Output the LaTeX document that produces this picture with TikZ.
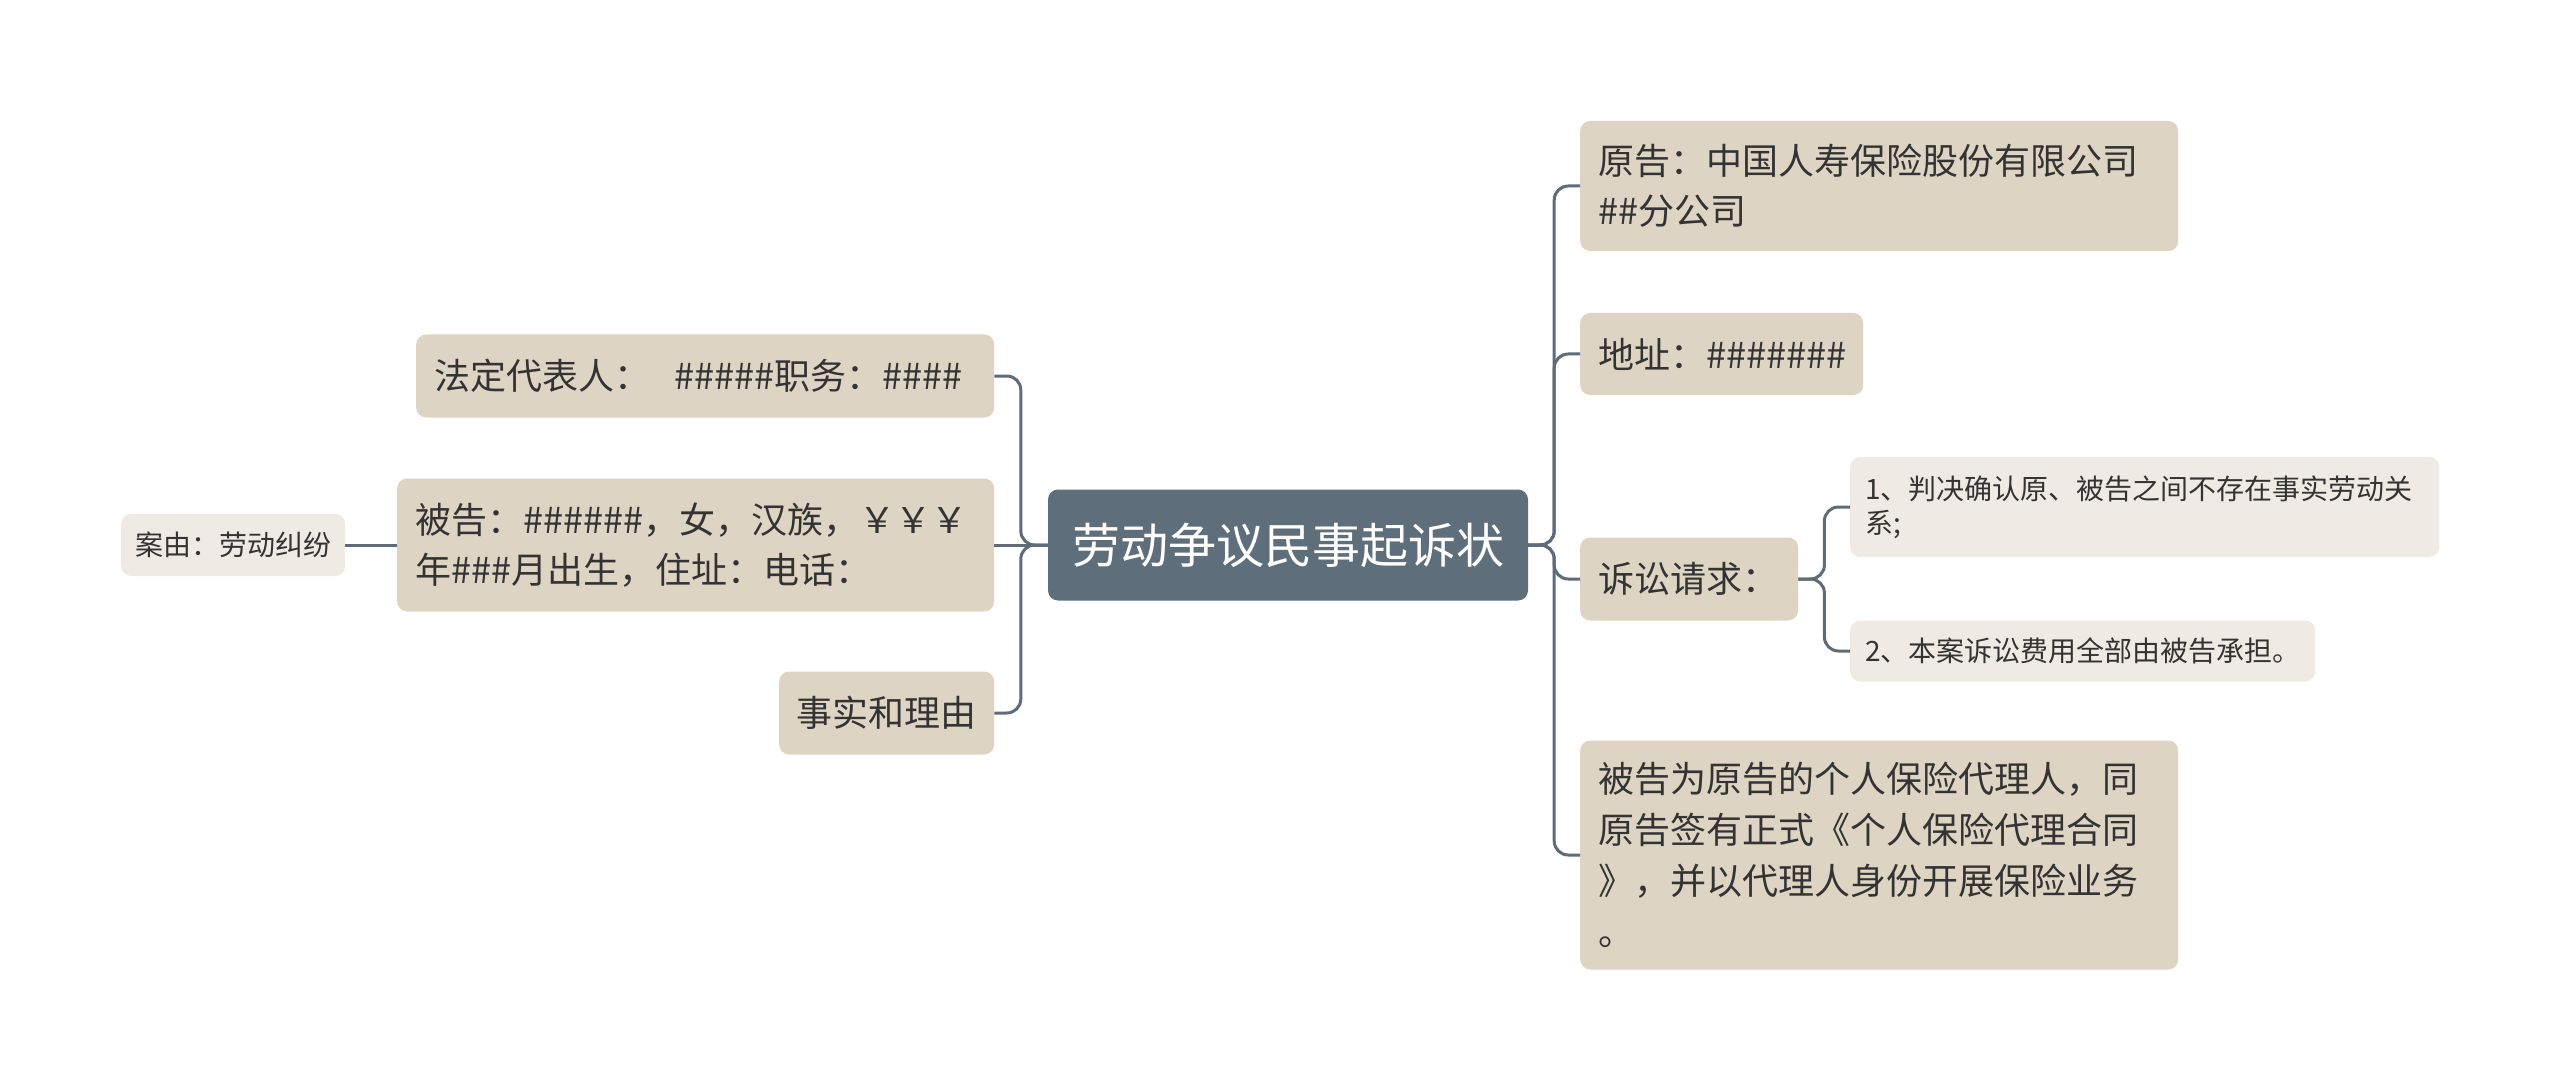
\documentclass[tikz,border=0pt]{standalone}
\usepackage{fontspec}
\setmainfont{Noto Sans CJK SC}
\definecolor{hub}{RGB}{94,111,123}
\definecolor{beige}{RGB}{222,212,196}
\definecolor{light}{RGB}{239,235,228}
\definecolor{ink}{RGB}{51,51,51}
\definecolor{wire}{RGB}{94,108,120}
\tikzset{
  base/.style={rounded corners=10pt, inner ysep=0pt, align=left, text=ink, anchor=west},
  bigbox/.style={base, fill=beige, inner xsep=18pt, font=\fontsize{36}{50}\selectfont},
  smallbox/.style={base, fill=light, inner xsep=15pt, font=\fontsize{28}{34}\selectfont},
  hubbox/.style={rounded corners=10pt, fill=hub, text=white, minimum width=480pt, minimum height=111pt, font=\fontsize{48}{56}\selectfont},
  link/.style={draw=wire, line width=3pt, rounded corners=14pt}
}
\begin{document}
\begin{tikzpicture}[x=1pt,y=-1pt]
\fill[white] (0,0) rectangle (2560,1091);
\path[use as bounding box] (0,0) rectangle (2560,1091);

\node[hubbox] (hub) at (1288,545) {劳动争议民事起诉状};

% left side
\node[bigbox, text width=542pt, minimum height=83pt] (fa) at (416,376) {法定代表人：\ \ \#\#\#\#\#职务：\#\#\#\#};
\node[bigbox, text width=561pt, minimum height=133pt] (bg) at (397,545) {被告：\#\#\#\#\#\#，女，汉族，￥￥￥\\年\#\#\#月出生，住址：电话：};
\node[bigbox, text width=180pt, inner xsep=17.5pt, minimum height=83pt] (ss) at (779,713) {事实和理由};
\node[smallbox, text width=196pt, inner xsep=14pt, minimum height=62pt] (ay) at (121,545) {案由：劳动纠纷};

% right side
\node[bigbox, text width=562pt, minimum height=130pt] (yg) at (1580,186) {原告：中国人寿保险股份有限公司\\\#\#分公司};
\node[bigbox, text width=247pt, minimum height=82pt] (dz) at (1580,354) {地址：\#\#\#\#\#\#\#};
\node[bigbox, text width=182pt, minimum height=83pt] (sq) at (1580,579) {诉讼请求：};
\node[bigbox, text width=562pt, minimum height=229pt, font=\fontsize{36}{51}\selectfont] (bw) at (1580,855) {被告为原告的个人保险代理人，同\\原告签有正式《个人保险代理合同\\》，并以代理人身份开展保险业务\\。};
\node[smallbox, text width=559pt, minimum height=100pt] (c1) at (1850,507) {1、判决确认原、被告之间不存在事实劳动关\\系;};
\node[smallbox, text width=435pt, minimum height=61pt] (c2) at (1850,651) {2、本案诉讼费用全部由被告承担。};

% connectors left
\draw[link] (hub.west) -- ++(-27,0) |- (fa.east);
\draw[link] (hub.west) -- (bg.east);
\draw[link] (hub.west) -- ++(-27,0) |- (ss.east);
\draw[link] (bg.west) -- (ay.east);

% connectors right
\draw[link] (hub.east) -- ++(26,0) |- (yg.west);
\draw[link] (hub.east) -- ++(26,0) |- (dz.west);
\draw[link] (hub.east) -- ++(26,0) |- (sq.west);
\draw[link] (hub.east) -- ++(26,0) |- (bw.west);
\draw[link] (sq.east) -- ++(26,0) |- (c1.west);
\draw[link] (sq.east) -- ++(26,0) |- (c2.west);
\end{tikzpicture}
\end{document}
